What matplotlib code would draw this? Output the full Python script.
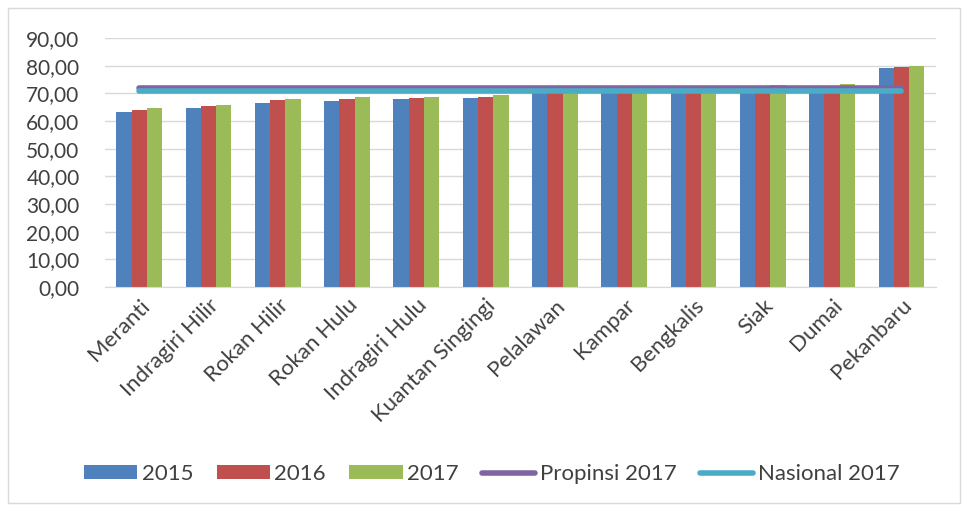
import matplotlib
matplotlib.use("Agg")
import matplotlib.pyplot as plt
import numpy as np
from matplotlib.patches import Rectangle

categories = ["Meranti", "Indragiri Hilir", "Rokan Hilir", "Rokan Hulu", "Indragiri Hulu",
              "Kuantan Singingi", "Pelalawan", "Kampar", "Bengkalis", "Siak", "Dumai", "Pekanbaru"]
v2015 = [63.25, 64.59, 66.68, 67.23, 67.82, 68.36, 70.30, 71.28, 71.29, 72.17, 72.20, 79.32]
v2016 = [64.03, 65.35, 67.48, 67.86, 68.49, 68.55, 70.71, 71.62, 71.98, 72.46, 72.67, 79.69]
v2017 = [64.70, 65.96, 67.94, 68.54, 68.85, 69.53, 71.17, 72.17, 72.32, 72.91, 73.27, 80.08]
propinsi_2017 = 71.79
nasional_2017 = 70.81
yticks = [0, 10, 20, 30, 40, 50, 60, 70, 80, 90]

plt.rcParams['font.family'] = ['Lato', 'DejaVu Sans']

fig = plt.figure(figsize=(9.68, 5.08), dpi=100)
fig.patches.append(Rectangle((0.008, 0.01), 0.984, 0.975, transform=fig.transFigure,
                             fill=False, edgecolor='#d9d9d9', linewidth=1))
ax = fig.add_axes([0.108, 0.435, 0.859, 0.49])

x = np.arange(len(categories))
w = 0.22
b1 = ax.bar(x - w, v2015, w, color='#4F81BD', label='2015', zorder=2)
b2 = ax.bar(x, v2016, w, color='#C0504D', label='2016', zorder=2)
b3 = ax.bar(x + w, v2017, w, color='#9BBB59', label='2017', zorder=2)
l1, = ax.plot(x, [propinsi_2017] * len(x), color='#8064A2', linewidth=4, solid_capstyle='round',
              label='Propinsi 2017', zorder=3)
l2, = ax.plot(x, [nasional_2017] * len(x), color='#4BACC6', linewidth=4, solid_capstyle='round',
              label='Nasional 2017', zorder=4)

ax.set_xlim(-0.5, len(categories) - 0.5)
ax.set_ylim(0, 90)
ax.set_yticks(yticks)
ax.set_yticklabels([f"{t:.2f}".replace('.', ',') for t in yticks], fontsize=15, color='#404040')
ax.set_xticks(x)
ax.set_xticklabels(categories, rotation=45, ha='right', rotation_mode='anchor',
                   fontsize=16, color='#404040')
ax.yaxis.grid(True, color='#d9d9d9', linewidth=1, zorder=0)
ax.set_axisbelow(True)
for s in ['top', 'right', 'left']:
    ax.spines[s].set_visible(False)
ax.spines['bottom'].set_color('#d9d9d9')
ax.tick_params(axis='y', length=0, pad=18)
ax.tick_params(axis='x', length=0, pad=6)

fig.legend([b1, b2, b3, l1, l2], ['2015', '2016', '2017', 'Propinsi 2017', 'Nasional 2017'],
           loc='center', bbox_to_anchor=(0.508, 0.067), ncol=5, frameon=False,
           fontsize=16, handlelength=2.4, handleheight=0.6, handletextpad=0.2,
           columnspacing=1.05, labelcolor='#404040')

fig.savefig("out.png", dpi=100)
